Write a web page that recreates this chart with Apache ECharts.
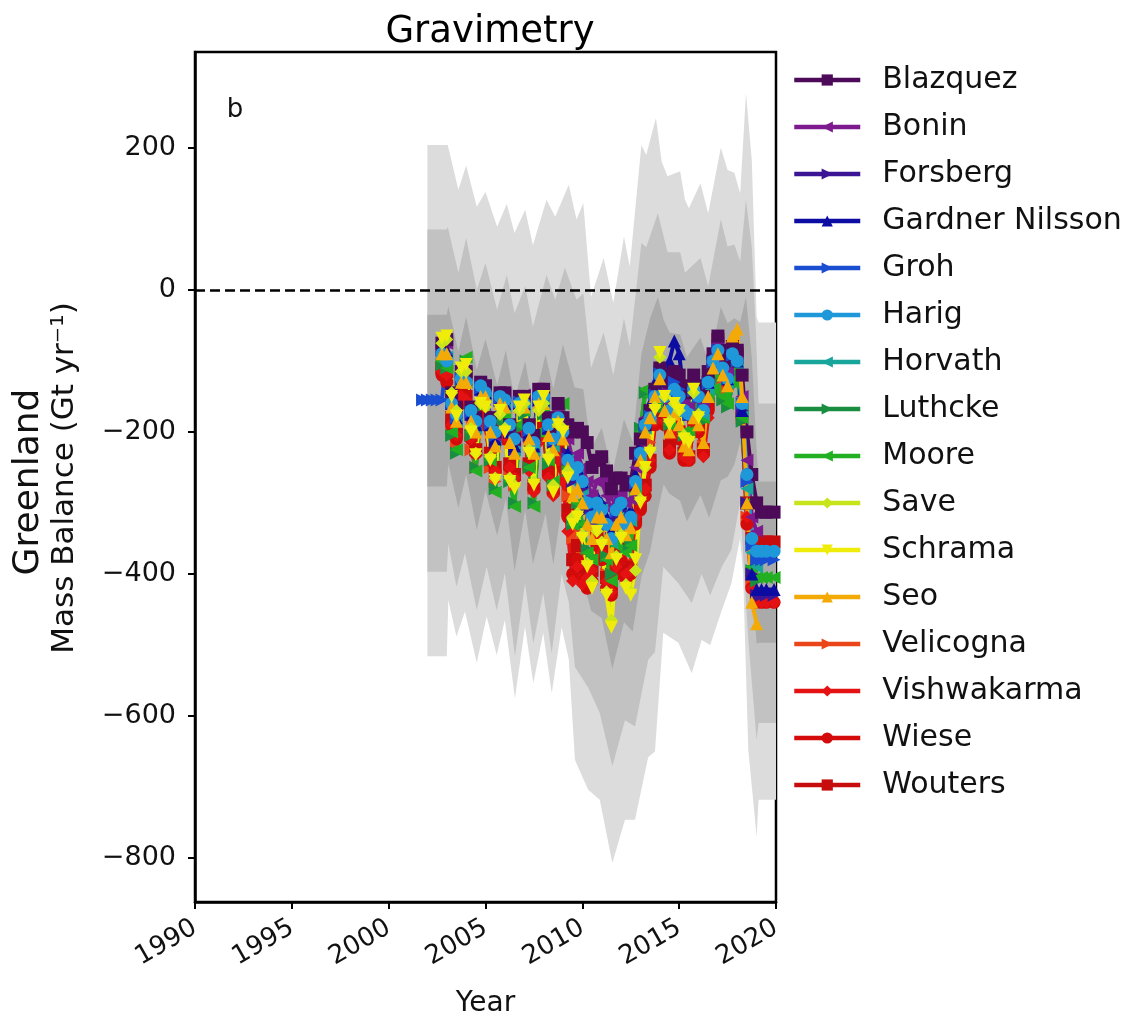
<!DOCTYPE html>
<html lang="en">
<head>
  <meta charset="UTF-8" />
  <title>Gravimetry - Greenland mass balance</title>
  <script src="https://cdn.jsdelivr.net/npm/echarts@6/dist/echarts.min.js"></script>
  <style>
    html, body { margin: 0; padding: 0; background: #fff; }
    #chart { width: 1138px; height: 1021px; }
  </style>
</head>
<body>
  <div id="chart"></div>
  <script>
    // quarterly time grid shared by all the series
    const quarterYears = [2001.75,
      2002.0, 2002.25, 2002.5, 2002.75,
      2003.0, 2003.25, 2003.5, 2003.75,
      2004.0, 2004.25, 2004.5, 2004.75,
      2005.0, 2005.25, 2005.5, 2005.75,
      2006.0, 2006.25, 2006.5, 2006.75,
      2007.0, 2007.25, 2007.5, 2007.75,
      2008.0, 2008.25, 2008.5, 2008.75,
      2009.0, 2009.25, 2009.5, 2009.75,
      2010.0, 2010.25, 2010.5, 2010.75,
      2011.0, 2011.25, 2011.5, 2011.75,
      2012.0, 2012.25, 2012.5, 2012.75,
      2013.0, 2013.25, 2013.5, 2013.75,
      2014.0, 2014.25, 2014.5, 2014.75,
      2015.0, 2015.25, 2015.5, 2015.75,
      2016.0, 2016.25, 2016.5, 2016.75,
      2017.0, 2017.25, 2017.5, 2017.75,
      2018.0, 2018.25, 2018.5, 2018.75,
      2019.0, 2019.25, 2019.5, 2019.9];

    const blazquez = [null,
      null, null, null, -75,
      -70, -145, -165, -115,
      -115, -165, -180, -130,
      -135, -180, -200, -145,
      -145, -190, -210, -150,
      -150, -190, -205, -140,
      -140, -180, -195, -160,
      -180, -190, -200, -195,
      -200, -215, -250, -240,
      -235, -255, -280, -265,
      -265, -275, -270, -230,
      -210, -190, -170, -140,
      -110, -120, -130, -115,
      -120, -135, -145, -120,
      -135, -150, -115, -90,
      -65, -85, -100, -80,
      -85, -120, -200, -260,
      -300, -313, -313, -313];
    const bonin = [null,
      null, null, null, -80,
      -75, -150, -170, -120,
      -118, -168, -185, -132,
      -138, -182, -205, -148,
      -148, -192, -212, -152,
      -148, -190, -210, -145,
      -145, -185, -200, -170,
      -190, -210, -240, -230,
      -250, -270, -290, -270,
      -270, -290, -310, -290,
      -285, -300, -295, -250,
      -215, -180, -165, -140,
      -115, -140, -160, -140,
      -145, -160, -165, -135,
      -145, -160, -125, -95,
      -75, -100, -115, -90,
      -95, -150, -240, -320,
      -340, null, null, null];
    const forsberg = [null,
      null, null, null, -85,
      -80, -160, -180, -125,
      -125, -175, -195, -140,
      -145, -190, -215, -155,
      -160, -200, -225, -160,
      -160, -205, -225, -155,
      -155, -195, -215, -180,
      -200, -230, -270, -260,
      -280, -310, -330, -300,
      -300, -330, -350, -320,
      -310, -330, -320, -270,
      -230, -190, -170, -145,
      -120, -150, -170, -145,
      -150, -170, -175, -140,
      -150, -165, -130, -100,
      -80, -110, -125, -95,
      -100, -170, -300, -400,
      -430, -430, -430, -430];
    const gardnerNilsson = [null,
      null, null, null, -80,
      -85, -160, -180, -125,
      -125, -175, -190, -140,
      -145, -190, -210, -155,
      -160, -200, -220, -160,
      -160, -200, -220, -155,
      -155, -195, -210, -180,
      -200, -230, -260, -250,
      -270, -300, -320, -290,
      -300, -320, -340, -310,
      -300, -320, -310, -260,
      -220, -180, -160, -130,
      -110, -130, -100, -72,
      -90, -150, -175, -145,
      -150, -165, -130, -100,
      -80, -110, -125, -95,
      -100, -170, -300, -400,
      -422, -422, -422, -422];
    const groh = [-155,
      -155, -155, -155, -155,
      -90, -160, -180, -125,
      -128, -172, -188, -138,
      -148, -188, -205, -152,
      -158, -195, -215, -158,
      -158, -198, -218, -152,
      -152, -192, -212, -182,
      -200, -238, -262, -252,
      -272, -302, -322, -300,
      -310, -332, -352, -312,
      -302, -332, -322, -272,
      -232, -192, -178, -148,
      -118, -148, -150, -130,
      -140, -165, -175, -142,
      -150, -168, -132, -102,
      -85, -110, -125, -92,
      -100, -160, -270, -360,
      -380, -380, -380, -380];
    const harig = [null,
      null, null, null, -90,
      -100, -160, -175, -125,
      -130, -170, -185, -135,
      -145, -185, -200, -150,
      -155, -190, -210, -160,
      -160, -195, -215, -150,
      -150, -190, -210, -180,
      -200, -240, -260, -250,
      -270, -300, -320, -300,
      -310, -330, -350, -310,
      -300, -330, -320, -270,
      -230, -190, -180, -150,
      -120, -150, -170, -140,
      -150, -170, -175, -140,
      -150, -170, -130, -100,
      -85, -110, -125, -90,
      -100, -160, -260, -350,
      -368, -368, -368, -368];
    const horvath = [null,
      null, null, null, -95,
      -95, -165, -185, -130,
      -130, -180, -195, -145,
      -150, -195, -210, -160,
      -165, -205, -225, -165,
      -165, -205, -225, -160,
      -160, -200, -220, -185,
      -205, -240, -270, -260,
      -280, -310, -330, -305,
      -310, -335, -355, -320,
      -310, -335, -325, -275,
      -235, -195, -180, -150,
      -120, -150, -170, -145,
      -150, -170, -180, -145,
      -155, -175, -140, -110,
      -90, -115, -130, -95,
      -105, -170, -280, -370,
      -390, null, null, null];
    const luthcke = [null,
      null, null, null, -105,
      -110, -205, -230, -130,
      -100, -205, -250, -165,
      -155, -240, -280, -185,
      -185, -270, -300, -195,
      -175, -250, -300, -205,
      -175, -245, -275, -195,
      -165, -255, -330, -300,
      -330, -365, -375, -320,
      -330, -375, -400, -355,
      -330, -365, -355, -285,
      -195, -145, -145, -140,
      -115, -165, -190, -170,
      -175, -205, -205, -165,
      -165, -185, -155, -145,
      -125, -155, -165, -135,
      -115, -185, -300, -395,
      -410, null, null, null];
    const moore = [null,
      null, null, null, -100,
      -110, -200, -225, -120,
      -95, -200, -255, -160,
      -150, -240, -285, -180,
      -180, -270, -305, -190,
      -170, -250, -305, -200,
      -170, -240, -270, -190,
      -160, -250, -330, -300,
      -330, -370, -380, -320,
      -330, -380, -410, -360,
      -330, -370, -360, -290,
      -200, -140, -150, -140,
      -110, -160, -190, -170,
      -170, -200, -200, -160,
      -160, -180, -150, -140,
      -120, -150, -160, -130,
      -110, -180, -300, -390,
      -405, -405, -405, -405];
    const save = [null,
      null, null, null, -75,
      -70, -145, -170, -115,
      -115, -195, -230, -160,
      -165, -235, -265, -175,
      -195, -265, -275, -170,
      -160, -225, -270, -170,
      -160, -235, -275, -190,
      -195, -255, -320, -315,
      -345, -385, -410, -340,
      -355, -425, -465, -375,
      -345, -415, -425, -395,
      -295, -250, -225, -165,
      -95, -150, -185, -160,
      -170, -205, -210, -145,
      -175, null, null, null,
      null, null, null, null,
      null, null, null, null,
      null, null, null, null];
    const schrama = [null,
      null, null, null, -68,
      -65, -150, -178, -110,
      -105, -200, -232, -160,
      -165, -240, -268, -170,
      -200, -270, -280, -165,
      -155, -230, -275, -165,
      -150, -240, -285, -190,
      -200, -265, -330, -320,
      -350, -390, -420, -340,
      -360, -430, -475, -380,
      -350, -420, -430, -380,
      -300, -250, -230, -170,
      -88, -150, -190, -160,
      -170, -210, -215, -140,
      -180, null, null, null,
      null, null, null, null,
      null, null, null, null,
      null, null, null, null];
    const seo = [null,
      null, null, null, -90,
      -90, -165, -185, -130,
      -130, -185, -200, -150,
      -150, -200, -220, -160,
      -165, -215, -230, -165,
      -165, -210, -230, -160,
      -160, -205, -225, -185,
      -210, -250, -290, -280,
      -300, -330, -350, -320,
      -320, -350, -370, -330,
      -320, -345, -335, -280,
      -240, -200, -180, -150,
      -125, -170, -200, -175,
      -190, -220, -225, -180,
      -190, -215, -150, -110,
      -90, -120, -135, -65,
      -55, -150, -300, -440,
      -470, null, null, null];
    const velicogna = [null,
      null, null, null, -110,
      -115, -195, -215, -150,
      -150, -225, -250, -185,
      -185, -250, -270, -200,
      -200, -255, -275, -200,
      -195, -250, -280, -205,
      -195, -255, -280, -220,
      -230, -290, -350, -340,
      -370, -390, -400, -350,
      -360, -400, -420, -385,
      -360, -395, -385, -320,
      -280, -240, -215, -170,
      -140, -185, -220, -190,
      -200, -230, -235, -185,
      -195, -220, -165, -115,
      -90, -125, -140, -100,
      -100, -180, -320, -410,
      -430, null, null, null];
    const vishwakarma = [null,
      null, null, null, -115,
      -120, -190, -205, -150,
      -155, -210, -230, -175,
      -185, -240, -255, -195,
      -205, -250, -265, -200,
      -200, -255, -285, -215,
      -205, -265, -290, -240,
      -270, -340, -410, -390,
      -415, -405, -395, -350,
      -370, -410, -425, -390,
      -370, -400, -395, -320,
      -300, -280, -240, -185,
      -145, -185, -225, -195,
      -205, -235, -240, -185,
      -195, -235, -180, -115,
      -75, -115, -125, -85,
      -95, -175, -320, -420,
      -440, -440, -440, -440];
    const wiese = [null,
      null, null, null, -120,
      -130, -190, -210, -150,
      -160, -210, -230, -180,
      -190, -240, -255, -200,
      -210, -250, -265, -200,
      -200, -250, -280, -210,
      -200, -260, -285, -230,
      -250, -320, -400, -380,
      -410, -420, -410, -360,
      -380, -420, -430, -400,
      -380, -410, -400, -330,
      -310, -290, -250, -190,
      -150, -190, -230, -200,
      -210, -240, -240, -190,
      -200, -230, -170, -110,
      -80, -120, -130, -90,
      -100, -180, -330, -420,
      -440, -440, -440, -440];
    const wouters = [null,
      null, null, null, -110,
      -115, -180, -200, -145,
      -150, -205, -225, -170,
      -180, -230, -250, -190,
      -200, -245, -260, -195,
      -195, -245, -275, -205,
      -195, -255, -280, -225,
      -240, -310, -380, -360,
      -390, -400, -395, -345,
      -365, -405, -420, -385,
      -365, -395, -390, -320,
      -300, -275, -240, -180,
      -140, -180, -220, -190,
      -200, -230, -235, -180,
      -190, -225, -160, -100,
      -70, -110, -120, -80,
      -90, -170, -300, -350,
      -355, -355, -355, -355];

    // uncertainty envelopes, [year, value] along each edge
    const outerTop = [[2002.0, 204], [2003.05, 204], [2003.6, 141], [2004.0, 175], [2004.55, 117], [2005.0, 138], [2005.6, 89], [2006.1, 121], [2006.5, 80], [2007.05, 113], [2007.45, 63], [2008.15, 127], [2008.6, 103], [2009.3, 148], [2009.7, 99], [2010.05, 122], [2010.45, -10], [2011.1, 45], [2011.6, -18], [2012.15, 75], [2012.45, 33], [2013.05, 204], [2013.3, 190], [2013.8, 242], [2014.1, 180], [2014.4, 160], [2015.05, 167], [2015.3, 127], [2015.5, 115], [2016.1, 150], [2016.5, 108], [2017.15, 200], [2017.5, 169], [2017.85, 165], [2018.15, 136], [2018.45, 277], [2018.75, 183], [2019.0, -38], [2019.1, -46], [2020, -46]];
    const outerBottom = [[2002.0, -516], [2003.0, -516], [2003.08, -437], [2003.5, -488], [2003.94, -453], [2004.55, -525], [2005.06, -460], [2005.58, -514], [2006.0, -465], [2006.52, -575], [2007.04, -474], [2007.47, -554], [2007.98, -483], [2008.42, -568], [2008.93, -475], [2009.3, -520], [2009.62, -662], [2010.3, -704], [2010.9, -718], [2011.55, -807], [2012.2, -746], [2012.72, -746], [2013.4, -658], [2013.75, -650], [2014.18, -483], [2014.96, -497], [2015.65, -540], [2016.16, -493], [2016.6, -500], [2017.2, -451], [2017.7, -413], [2018.14, -350], [2018.3, -400], [2018.57, -648], [2019.0, -770], [2019.1, -718], [2020, -718]];
    const midTop = [[2002.0, 85], [2003.0, 85], [2003.05, 89], [2003.6, 24], [2004.0, 73], [2004.55, 0], [2005.0, 38], [2005.6, -28], [2006.1, 21], [2006.5, -33], [2007.05, 5], [2007.45, -52], [2008.15, 21], [2008.6, -14], [2009.1, 31], [2009.7, -14], [2010.05, -5], [2010.45, -110], [2011.1, -60], [2011.6, -120], [2012.15, -40], [2012.45, -80], [2013.05, 66], [2013.3, 60], [2013.9, 108], [2014.4, 53], [2015.05, 53], [2015.3, 24], [2016.1, 45], [2016.5, 5], [2017.15, 99], [2017.5, 61], [2017.85, 64], [2018.15, 40], [2018.45, 127], [2018.75, 60], [2018.95, -52], [2019.1, -160], [2020, -160]];
    const midBottom = [[2002.0, -397], [2003.0, -397], [2003.08, -357], [2003.5, -418], [2003.94, -371], [2004.55, -451], [2005.06, -390], [2005.58, -451], [2006.0, -399], [2006.52, -516], [2007.04, -413], [2007.47, -498], [2007.98, -427], [2008.42, -512], [2008.93, -400], [2009.3, -440], [2009.62, -531], [2010.3, -560], [2010.9, -596], [2011.55, -671], [2012.2, -606], [2012.72, -615], [2013.4, -521], [2013.75, -510], [2014.18, -390], [2014.96, -413], [2015.65, -441], [2016.16, -400], [2016.6, -430], [2017.2, -390], [2017.7, -366], [2018.14, -300], [2018.57, -493], [2019.0, -634], [2019.1, -610], [2020, -610]];
    const innerTop = [[2002.0, -35], [2003.0, -35], [2003.08, -23], [2003.6, -87], [2004.0, -38], [2004.55, -112], [2005.0, -69], [2005.6, -134], [2006.05, -85], [2006.5, -154], [2007.05, -100], [2007.45, -164], [2008.1, -91], [2008.5, -139], [2009.0, -77], [2009.6, -137], [2010.05, -140], [2010.45, -224], [2011.0, -194], [2011.55, -258], [2012.15, -182], [2012.6, -214], [2013.05, -90], [2013.5, -40], [2013.9, -10], [2014.2, -42], [2014.5, -60], [2015.05, -63], [2015.4, -95], [2016.1, -67], [2016.55, -104], [2017.15, -24], [2017.5, -47], [2017.85, -40], [2018.15, -45], [2018.45, -10], [2018.75, -95], [2019.0, -226], [2019.1, -270], [2020, -270]];
    const innerBottom = [[2002.0, -277], [2003.0, -277], [2003.08, -245], [2003.6, -307], [2004.0, -260], [2004.55, -338], [2005.0, -283], [2005.6, -346], [2006.05, -295], [2006.5, -396], [2007.05, -310], [2007.45, -386], [2008.1, -315], [2008.5, -387], [2009.0, -293], [2009.6, -409], [2010.05, -410], [2010.45, -452], [2011.0, -462], [2011.55, -534], [2012.15, -468], [2012.6, -481], [2013.05, -404], [2013.5, -368], [2013.9, -311], [2014.2, -274], [2014.5, -287], [2015.05, -297], [2015.4, -326], [2016.1, -289], [2016.55, -321], [2017.15, -268], [2017.5, -263], [2017.85, -246], [2018.15, -215], [2018.45, -306], [2018.75, -405], [2019.0, -498], [2019.1, -497], [2020, -497]];

    const yTicks = [-800, -600, -400, -200, 0, 200];
    const legendNames = ['Blazquez', 'Bonin', 'Forsberg', 'Gardner Nilsson', 'Groh', 'Harig', 'Horvath',
      'Luthcke', 'Moore', 'Save', 'Schrama', 'Seo', 'Velicogna', 'Vishwakarma', 'Wiese', 'Wouters'];

    // drawing order (later on top)
    const lines = [
      { name: 'Velicogna', data: velicogna, color: '#ea461a', symbol: 'triangle', rot: -90 },
      { name: 'Wouters', data: wouters, color: '#c60c0c', symbol: 'rect', rot: 0 },
      { name: 'Wiese', data: wiese, color: '#d40b0b', symbol: 'circle', rot: 0 },
      { name: 'Vishwakarma', data: vishwakarma, color: '#e41212', symbol: 'diamond', rot: 0 },
      { name: 'Luthcke', data: luthcke, color: '#198e40', symbol: 'triangle', rot: -90 },
      { name: 'Moore', data: moore, color: '#22b022', symbol: 'triangle', rot: 90 },
      { name: 'Horvath', data: horvath, color: '#17a59c', symbol: 'triangle', rot: 90 },
      { name: 'Forsberg', data: forsberg, color: '#3c1496', symbol: 'triangle', rot: -90 },
      { name: 'Gardner Nilsson', data: gardnerNilsson, color: '#0c0ca2', symbol: 'triangle', rot: 0 },
      { name: 'Bonin', data: bonin, color: '#7d1a8e', symbol: 'triangle', rot: 90 },
      { name: 'Blazquez', data: blazquez, color: '#4d0a58', symbol: 'rect', rot: 0 },
      { name: 'Groh', data: groh, color: '#1a4ed0', symbol: 'triangle', rot: -90 },
      { name: 'Harig', data: harig, color: '#1f98da', symbol: 'circle', rot: 0 },
      { name: 'Seo', data: seo, color: '#f4aa06', symbol: 'triangle', rot: 0 },
      { name: 'Save', data: save, color: '#c8e41a', symbol: 'diamond', rot: 0 },
      { name: 'Schrama', data: schrama, color: '#f0ec0a', symbol: 'triangle', rot: 180 }
    ];

    function band(top, bottom, color) {
      return {
        type: 'custom',
        silent: true,
        z: 1,
        data: [[2010, -200]],
        renderItem: function (params, api) {
          const pts = top.map(p => api.coord(p))
            .concat(bottom.slice().reverse().map(p => api.coord(p)));
          return { type: 'polygon', shape: { points: pts }, style: { fill: color } };
        }
      };
    }

    const series = [
      band(outerTop, outerBottom, '#dcdcdc'),
      band(midTop, midBottom, '#c2c2c2'),
      band(innerTop, innerBottom, '#aaaaaa')
    ];

    lines.forEach((s, k) => {
      const item = {
        name: s.name,
        type: 'line',
        z: 3,
        data: quarterYears.map((t, i) => [t, s.data[i] === null ? '-' : s.data[i]]),
        symbol: s.symbol,
        symbolRotate: s.rot,
        symbolSize: 13,
        showAllSymbol: true,
        connectNulls: false,
        color: s.color,
        lineStyle: { width: 4, color: s.color },
        itemStyle: { color: s.color },
        emphasis: { disabled: true }
      };
      if (k === 0) {
        item.markLine = {
          silent: true,
          symbol: 'none',
          z: 2,
          label: { show: false },
          lineStyle: { color: '#000', type: [10, 5], width: 2.5 },
          data: [{ yAxis: 0 }]
        };
      }
      series.push(item);
    });

    const chart = echarts.init(document.getElementById('chart'), null, { renderer: 'canvas' });
    chart.setOption({
      animation: false,
      backgroundColor: '#fff',
      textStyle: { fontFamily: 'DejaVu Sans' },
      title: {
        text: 'Gravimetry',
        left: 485, top: 9, textAlign: 'center',
        textStyle: { fontSize: 37, fontWeight: 'normal', color: '#000', fontFamily: 'DejaVu Sans' }
      },
      grid: {
        left: 195, top: 52, right: 362, bottom: 119,
        outerBoundsMode: 'none',
        show: true, borderColor: '#000', borderWidth: 2.5, backgroundColor: 'transparent'
      },
      legend: {
        data: legendNames,
        orient: 'vertical',
        left: 787, top: 60,
        itemWidth: 66, itemHeight: 14, itemGap: 17,
        lineStyle: { width: 4.5 },
        textStyle: { fontSize: 30, color: '#111', lineHeight: 30, padding: [0, 0, 0, 17], fontFamily: 'DejaVu Sans' }
      },
      graphic: [
        { type: 'text', x: 235, y: 110, style: { text: 'b', font: '26px "DejaVu Sans"', fill: '#111', textAlign: 'center', textVerticalAlign: 'middle' } },
        { type: 'text', x: 29, y: 482, rotation: Math.PI / 2, style: { text: 'Greenland', font: '36px "DejaVu Sans"', fill: '#111', textAlign: 'center', textVerticalAlign: 'middle' } },
        { type: 'text', x: 65, y: 478, rotation: Math.PI / 2, style: { text: 'Mass Balance (Gt yr⁻¹)', font: '31px "DejaVu Sans"', fill: '#111', textAlign: 'center', textVerticalAlign: 'middle' } }
      ],
      xAxis: {
        type: 'value', min: 1990, max: 2020, interval: 5,
        name: 'Year', nameLocation: 'middle', nameGap: 88,
        nameTextStyle: { fontSize: 28, color: '#111' },
        axisLine: { onZero: false, lineStyle: { color: '#000', width: 2.5 } },
        axisTick: { show: true, length: 7, lineStyle: { color: '#000', width: 2 } },
        axisLabel: { rotate: 30, fontSize: 26, color: '#111', margin: 24, formatter: v => String(v) },
        splitLine: { show: false }
      },
      yAxis: {
        type: 'value', min: -862, max: 335,
        axisLine: { show: true, onZero: false, lineStyle: { color: '#000', width: 2.5 } },
        axisTick: { show: true, length: 7, lineStyle: { color: '#000', width: 2 }, customValues: yTicks },
        axisLabel: { fontSize: 27, color: '#111', margin: 19, customValues: yTicks, formatter: v => String(v).replace('-', '\u2212') },
        splitLine: { show: false }
      },
      series: series
    });
  </script>
</body>
</html>
